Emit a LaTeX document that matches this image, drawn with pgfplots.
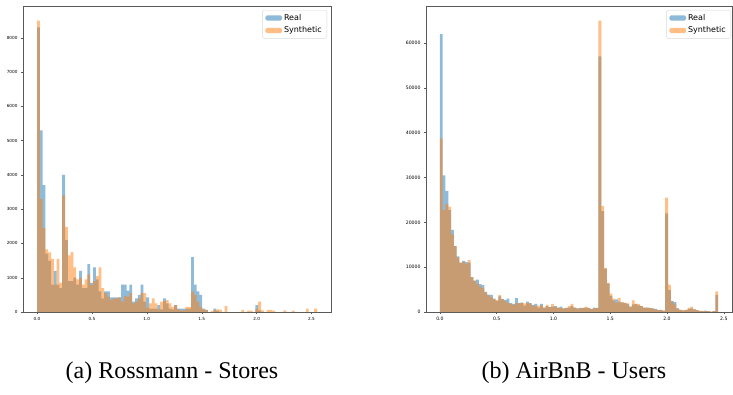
\documentclass[border=0pt]{standalone}
\usepackage{fontspec}
\setmainfont{Liberation Serif}
\newfontfamily\dejavu{DejaVu Sans}
\usepackage{pgfplots}
\usepackage{pgfplotstable}
\pgfplotsset{compat=1.18}
\definecolor{tabblue}{HTML}{1F77B4}
\definecolor{taborange}{HTML}{FF7F0E}

\pgfplotstableread{
x R S
0.0000 8300 8500
0.0255 5300 3300
0.0510 3700 2450
0.0765 1700 1830
0.1020 1500 1740
0.1275 800 1550
0.1530 1200 800
0.1785 800 1550
0.2040 700 850
0.2295 4000 3400
0.2550 2100 2480
0.2805 900 1650
0.3060 900 1750
0.3315 1000 1300
0.3570 800 950
0.3825 1200 1000
0.4080 700 800
0.4335 700 950
0.4590 1400 1100
0.4845 850 800
0.5100 1300 900
0.5355 950 1050
0.5610 600 1300
0.5865 400 700
0.6120 600 550
0.6375 600 450
0.6630 430 350
0.6885 430 400
0.7140 430 400
0.7395 430 430
0.7650 800 300
0.7905 800 470
0.8160 620 450
0.8415 800 560
0.8670 300 250
0.8925 400 300
0.9180 500 400
0.9435 800 550
0.9690 300 550
0.9945 430 130
1.0200 100 250
1.0455 100 400
1.0710 100 250
1.0965 200 80
1.1220 80 300
1.1475 400 320
1.1730 250 350
1.1985 100 250
1.2240 80 150
1.2495 200 200
1.2750 100 80
1.3005 100 50
1.3260 100 50
1.3515 100 150
1.3770 100 150
1.4025 1600 600
1.4280 800 500
1.4535 600 300
1.4790 500 150
1.5045 100 80
1.5300 60 60
1.5555 0 0
1.5810 0 30
1.6065 100 50
1.6320 30 80
1.6575 0 70
1.6830 0 0
1.7085 0 170
1.7340 0 0
1.7595 0 0
1.7850 0 0
1.8105 0 0
1.8360 0 0
1.8615 0 60
1.8870 0 0
1.9125 0 40
1.9380 0 40
1.9635 0 0
1.9890 200 100
2.0145 50 300
2.0400 0 50
2.0655 0 0
2.0910 0 60
2.1165 0 60
2.1420 0 40
2.1675 0 0
2.1930 0 0
2.2185 0 0
2.2440 0 50
2.2695 0 0
2.2950 0 0
2.3205 0 40
2.3460 0 0
2.3715 0 0
2.3970 0 0
2.4225 0 0
2.4480 0 100
2.4735 0 0
2.4990 0 0
2.5245 0 100
2.5500 0 0
}\rossmann

\pgfplotstableread{
x R S
0.0000 62000 38700
0.0245 30500 22700
0.0490 27000 24100
0.0735 22700 23500
0.0980 18300 17300
0.1225 14700 14700
0.1470 12400 12200
0.1715 11000 11000
0.1960 11400 11200
0.2205 11200 10800
0.2450 11000 11600
0.2695 7800 7800
0.2940 7000 7000
0.3185 7200 6300
0.3430 6200 5700
0.3675 6000 5300
0.3920 4500 4400
0.4165 3900 3700
0.4410 3800 3300
0.4655 3000 2800
0.4900 2400 2700
0.5145 3500 3800
0.5390 2900 2800
0.5635 2700 2500
0.5880 3000 2100
0.6125 2000 1800
0.6370 1800 1600
0.6615 3100 2000
0.6860 2000 1900
0.7105 2100 2100
0.7350 1400 1900
0.7595 2300 2000
0.7840 2000 1900
0.8085 1600 1500
0.8330 1800 1300
0.8575 1000 1400
0.8820 1800 1500
0.9065 1000 1000
0.9310 1300 1600
0.9555 1100 1100
0.9800 1200 1800
1.0045 1300 1200
1.0290 1000 1000
1.0535 1200 900
1.0780 800 800
1.1025 900 900
1.1270 1000 1300
1.1515 1300 1800
1.1760 1000 1000
1.2005 800 800
1.2250 900 800
1.2495 900 900
1.2740 1000 1200
1.2985 900 900
1.3230 700 700
1.3475 1000 800
1.3720 900 900
1.3965 57000 65000
1.4210 22500 23600
1.4455 9700 9800
1.4700 6400 6500
1.4945 3600 4100
1.5190 2600 3000
1.5435 2800 2000
1.5680 2300 3100
1.5925 2100 2200
1.6170 2000 2100
1.6415 1800 1900
1.6660 1200 1200
1.6905 1700 2600
1.7150 1800 1800
1.7395 1500 1800
1.7640 1300 1300
1.7885 1000 1000
1.8130 1000 1000
1.8375 900 900
1.8620 800 800
1.8865 700 600
1.9110 500 500
1.9355 500 400
1.9600 300 300
1.9845 22000 25500
2.0090 4900 6100
2.0335 2500 2300
2.0580 2200 1700
2.0825 800 800
2.1070 500 500
2.1315 300 400
2.1560 500 400
2.1805 700 900
2.2050 800 1200
2.2295 600 600
2.2540 400 400
2.2785 200 300
2.3030 200 200
2.3275 300 200
2.3520 200 200
2.3765 100 100
2.4010 200 200
2.4255 3800 4600
2.4500 0 0
}\airbnb

\pgfplotsset{
  histax/.style={
    scale only axis, height=306pt, anchor=south west,
    axis line style={black!65, line width=0.5pt},
    tick style={black!65, line width=0.4pt},
    tick align=outside, major tick length=2pt,
    xtick pos=bottom, ytick pos=left,
    scaled y ticks=false, ymin=0,
    /pgf/number format/assume math mode=true,
    yticklabel style={/pgf/number format/1000 sep={}},
    xticklabel style={/pgf/number format/fixed, /pgf/number format/fixed zerofill, /pgf/number format/precision=1},
    xtick={0,0.5,1,1.5,2,2.5},
    legend style={at={(1,1)}, anchor=north east, xshift=-4pt, yshift=-4pt,
      draw=black!15, rounded corners=1.5pt, fill=white,
      font=\dejavu\fontsize{8}{9}\selectfont, inner xsep=3pt, inner ysep=2pt,
      row sep=1pt, cells={anchor=west}},
    legend image code/.code={\fill[##1] (0pt,-2.6pt) rectangle (16.6pt,2.6pt);},
  },
  realhist/.style={ybar interval, fill=tabblue, fill opacity=0.5, draw=none},
  synhist/.style={ybar interval, fill=taborange, fill opacity=0.5, draw=none},
}

\begin{document}
\begin{tikzpicture}
\useasboundingbox (0,0) rectangle (733pt,394pt);
\begin{axis}[histax, width=308pt, at={(23pt,82pt)},
  xmin=-0.1275, xmax=2.6775, ymax=8925,
  ytick={0,1000,2000,3000,4000,5000,6000,7000,8000},
  ticklabel style={font=\dejavu\fontsize{4.2}{5}\selectfont}]
\addplot[realhist] table[x=x,y=R]{\rossmann};
\addlegendentry{Real}
\addplot[synhist] table[x=x,y=S]{\rossmann};
\addlegendentry{Synthetic}
\end{axis}
\begin{axis}[histax, width=306pt, at={(426pt,82pt)},
  xmin=-0.1225, xmax=2.5725, ymax=68250,
  ytick={0,10000,20000,30000,40000,50000,60000},
  ticklabel style={font=\dejavu\fontsize{4.6}{5.5}\selectfont},
  legend style={xshift=3pt}]
\addplot[realhist] table[x=x,y=R]{\airbnb};
\addlegendentry{Real}
\addplot[synhist] table[x=x,y=S]{\airbnb};
\addlegendentry{Synthetic}
\end{axis}
\node[anchor=base, font=\fontsize{24}{28}\selectfont] at (172pt,16pt) {(a) Rossmann - Stores};
\node[anchor=base, font=\fontsize{24}{28}\selectfont] at (574pt,16pt) {(b) AirBnB - Users};
\end{tikzpicture}
\end{document}
